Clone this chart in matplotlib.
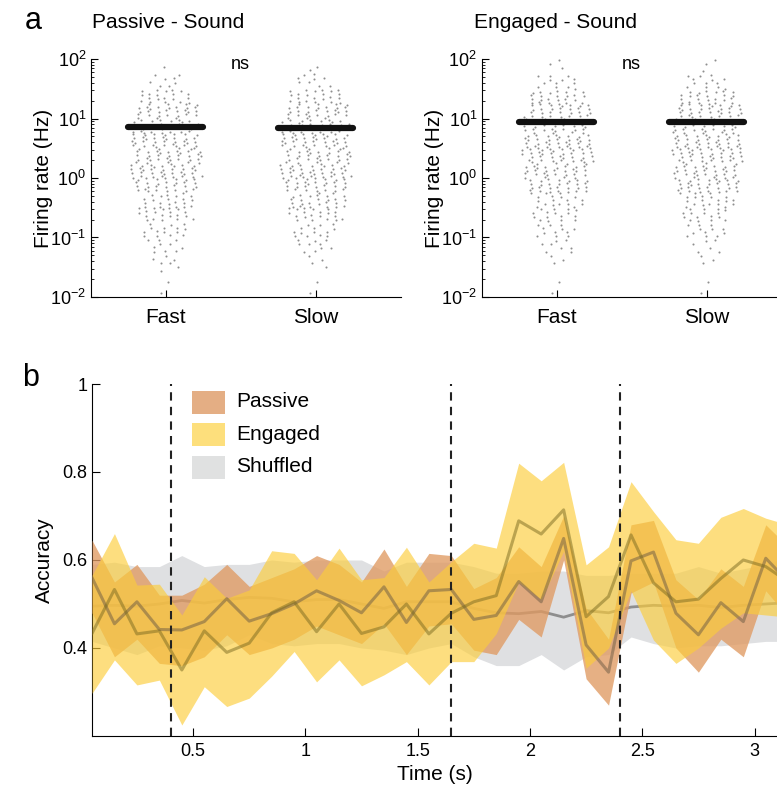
import numpy as np
import matplotlib
matplotlib.use('Agg')
import matplotlib.pyplot as plt
from matplotlib.patches import Rectangle

plt.rcParams['font.family'] = ['Liberation Sans', 'DejaVu Sans']
plt.rcParams['mathtext.fontset'] = 'custom'
plt.rcParams['mathtext.rm'] = 'Liberation Sans'

# ---- panel a: firing rates, counts per quarter-decade bin (10^-2 .. 10^2, bottom to top)
groups = ['Fast', 'Slow']
passive_fast = [1, 2, 6, 10, 15, 20, 20, 30, 35, 35, 35, 30, 30, 20, 8, 1]
passive_slow = [1, 1, 4, 10, 14, 20, 25, 30, 35, 33, 35, 32, 30, 22, 9, 2]
engaged_fast = [1, 1, 3, 8, 12, 16, 18, 28, 32, 35, 35, 32, 30, 24, 12, 3]
engaged_slow = [1, 1, 3, 6, 12, 16, 20, 30, 32, 34, 35, 32, 32, 24, 12, 3]
passive_mean_rate = [7.1, 7.0]
engaged_mean_rate = [8.9, 8.9]

# ---- panel b: decoding accuracy
time_s = [0.05, 0.15, 0.25, 0.35, 0.45, 0.55, 0.65, 0.75, 0.85, 0.95, 1.05,
          1.15, 1.25, 1.35, 1.45, 1.55, 1.65, 1.75, 1.85, 1.95, 2.05, 2.15,
          2.25, 2.35, 2.45, 2.55, 2.65, 2.75, 2.85, 2.95, 3.05, 3.15]
passive_acc = [0.56, 0.455, 0.505, 0.442, 0.441, 0.46, 0.512, 0.461, 0.478, 0.50, 0.53,
               0.508, 0.48, 0.539, 0.458, 0.53, 0.533, 0.465, 0.474, 0.551, 0.505, 0.649,
               0.407, 0.345, 0.598, 0.618, 0.479, 0.43, 0.503, 0.46, 0.604, 0.55]
passive_hi = [0.645, 0.55, 0.59, 0.52, 0.52, 0.545, 0.59, 0.54, 0.56, 0.58, 0.61,
              0.59, 0.55, 0.625, 0.54, 0.615, 0.61, 0.535, 0.56, 0.63, 0.585, 0.70,
              0.49, 0.42, 0.68, 0.69, 0.555, 0.51, 0.58, 0.54, 0.68, 0.63]
passive_lo = [0.48, 0.38, 0.42, 0.365, 0.36, 0.38, 0.43, 0.385, 0.40, 0.42, 0.45,
              0.43, 0.41, 0.455, 0.385, 0.45, 0.455, 0.395, 0.385, 0.465, 0.425, 0.60,
              0.33, 0.27, 0.525, 0.55, 0.40, 0.345, 0.42, 0.38, 0.53, 0.47]
engaged_acc = [0.433, 0.533, 0.432, 0.439, 0.35, 0.439, 0.39, 0.411, 0.48, 0.505, 0.437,
               0.50, 0.433, 0.448, 0.50, 0.432, 0.479, 0.505, 0.519, 0.689, 0.659, 0.714,
               0.471, 0.517, 0.657, 0.548, 0.505, 0.511, 0.558, 0.60, 0.585, 0.55]
engaged_hi = [0.565, 0.66, 0.543, 0.545, 0.475, 0.562, 0.513, 0.532, 0.621, 0.615, 0.555,
              0.627, 0.555, 0.56, 0.629, 0.55, 0.596, 0.638, 0.627, 0.82, 0.78, 0.822,
              0.589, 0.63, 0.778, 0.71, 0.646, 0.638, 0.697, 0.717, 0.695, 0.68]
engaged_lo = [0.297, 0.373, 0.316, 0.327, 0.225, 0.312, 0.267, 0.286, 0.336, 0.392, 0.323,
              0.373, 0.314, 0.339, 0.369, 0.316, 0.369, 0.369, 0.433, 0.55, 0.51, 0.62,
              0.354, 0.40, 0.53, 0.418, 0.365, 0.40, 0.445, 0.48, 0.475, 0.47]
shuffled_acc = [0.495, 0.497, 0.495, 0.50, 0.508, 0.502, 0.51, 0.515, 0.513, 0.505, 0.51,
                0.51, 0.50, 0.49, 0.505, 0.505, 0.505, 0.49, 0.48, 0.478, 0.483, 0.47,
                0.485, 0.48, 0.493, 0.497, 0.495, 0.497, 0.492, 0.497, 0.50, 0.503]
shuffled_hi = [0.59, 0.595, 0.585, 0.585, 0.61, 0.585, 0.59, 0.59, 0.60, 0.595, 0.60,
               0.60, 0.60, 0.575, 0.595, 0.595, 0.595, 0.585, 0.57, 0.57, 0.575, 0.575,
               0.565, 0.565, 0.57, 0.57, 0.57, 0.585, 0.57, 0.58, 0.59, 0.61]
shuffled_lo = [0.415, 0.40, 0.385, 0.405, 0.40, 0.395, 0.405, 0.43, 0.41, 0.405, 0.41,
               0.41, 0.40, 0.395, 0.385, 0.40, 0.41, 0.38, 0.36, 0.36, 0.385, 0.35,
               0.38, 0.385, 0.425, 0.41, 0.40, 0.405, 0.405, 0.41, 0.415, 0.415]
epoch_lines = [0.4, 1.65, 2.4]


def column_points(counts, center, maxw=0.24):
    # spread the dots of each bin over the bin, x spread follows bin density
    xs, ys = [], []
    k = 0
    top = max(counts)
    for b, n in enumerate(counts):
        lo = -2 + 0.25 * b
        w = maxw * max(np.sqrt(n / top), 0.15)
        for j in range(n):
            fy = (0.5 + (k + 1) * 0.7548776662) % 1
            fx = (0.5 + (k + 1) * 0.5698402910) % 1
            ys.append(10 ** (lo + 0.25 * fy))
            xs.append(center + w * (2 * fx - 1))
            k += 1
    return xs, ys


def rate_panel(ax, data, means):
    for i, counts in enumerate(data):
        xs, ys = column_points(counts, i + 1)
        ax.scatter(xs, ys, s=2.2, color='#8f8f8f', linewidths=0, zorder=2)
        ax.plot([i + 0.75, i + 1.25], [means[i], means[i]], color='#111111', lw=4.5,
                solid_capstyle='round', zorder=3)
    ax.set_yscale('log')
    ax.set_ylim(1e-2, 1e2)
    ax.set_xlim(0.5, 2.57)
    ax.tick_params(axis='both', which='both', direction='in', labelsize=13)
    ax.tick_params(axis='x', length=5, pad=8)
    ax.tick_params(axis='y', which='major', length=5)
    ax.tick_params(axis='y', which='minor', length=2.5)
    ax.set_xticks([1, 2])
    ax.set_xticklabels(groups, fontsize=15)
    ax.set_ylabel('Firing rate (Hz)', fontsize=15, labelpad=-2)
    for s in ['top', 'right']:
        ax.spines[s].set_visible(False)
    ax.text(1.5, 10 ** 1.9, 'ns', ha='center', va='center', fontsize=13)


fig = plt.figure(figsize=(7.77, 7.89), dpi=100)

ax1 = fig.add_axes([0.1171, 0.6236, 0.399, 0.3016])
rate_panel(ax1, [passive_fast, passive_slow], passive_mean_rate)
ax2 = fig.add_axes([0.6203, 0.6236, 0.399, 0.3016])
rate_panel(ax2, [engaged_fast, engaged_slow], engaged_mean_rate)

fig.text(92 / 777, 1 - 22 / 789, 'Passive - Sound', fontsize=15, va='center')
fig.text(474 / 777, 1 - 22 / 789, 'Engaged - Sound', fontsize=15, va='center')
fig.text(25 / 777, 1 - 21 / 789, 'a', fontsize=22, va='center')
fig.text(22 / 777, 1 - 378 / 789, 'b', fontsize=22, va='center')

# panel b
ax3 = fig.add_axes([0.1184, 0.0672, 0.8816, 0.4461])
ax3.fill_between(time_s, shuffled_lo, shuffled_hi, color='#dfe0e2', lw=0, zorder=1)
ax3.plot(time_s, shuffled_acc, color='#8e8e8e', lw=2, zorder=2)
ax3.fill_between(time_s, passive_lo, passive_hi, color='#e09a62', alpha=0.78, lw=0, zorder=3)
ax3.fill_between(time_s, engaged_lo, engaged_hi, color='#fccd3a', alpha=0.65, lw=0, zorder=4)
ax3.plot(time_s, passive_acc, color='#6b5a44', lw=2.2, alpha=0.5, zorder=5)
ax3.plot(time_s, engaged_acc, color='#7a6a20', lw=2.2, alpha=0.5, zorder=6)
for t in epoch_lines:
    ax3.axvline(t, color='#222222', lw=1.5, ls=(0, (4, 3)), zorder=7)

ax3.set_xlim(0.05, 3.1)
ax3.set_ylim(0.2, 1.0)
ax3.tick_params(axis='both', direction='in', length=6, labelsize=13)
ax3.tick_params(axis='x', pad=5)
ax3.set_xticks([0.5, 1, 1.5, 2, 2.5, 3])
ax3.set_xticklabels(['0.5', '1', '1.5', '2', '2.5', '3'])
ax3.set_yticks([0.4, 0.6, 0.8, 1.0])
ax3.set_yticklabels(['0.4', '0.6', '0.8', '1'])
for s in ['top', 'right']:
    ax3.spines[s].set_visible(False)
ax3.set_xlabel('Time (s)', fontsize=15, labelpad=4)
ax3.set_ylabel('Accuracy', fontsize=15, labelpad=6)

# legend drawn as boxes + labels
leg_labels = ['Passive', 'Engaged', 'Shuffled']
leg_colors = ['#e4ae84', '#fddf7c', '#e0e1e1']
for i, (lab, col) in enumerate(zip(leg_labels, leg_colors)):
    y0 = 0.915 - i * 0.092
    ax3.add_patch(Rectangle((0.146, y0), 0.048, 0.065, transform=ax3.transAxes,
                            color=col, lw=0, zorder=8))
    ax3.text(0.210, y0 + 0.034, lab, transform=ax3.transAxes, fontsize=15,
             va='center', ha='left', zorder=8)

fig.savefig('out.png', dpi=100)
